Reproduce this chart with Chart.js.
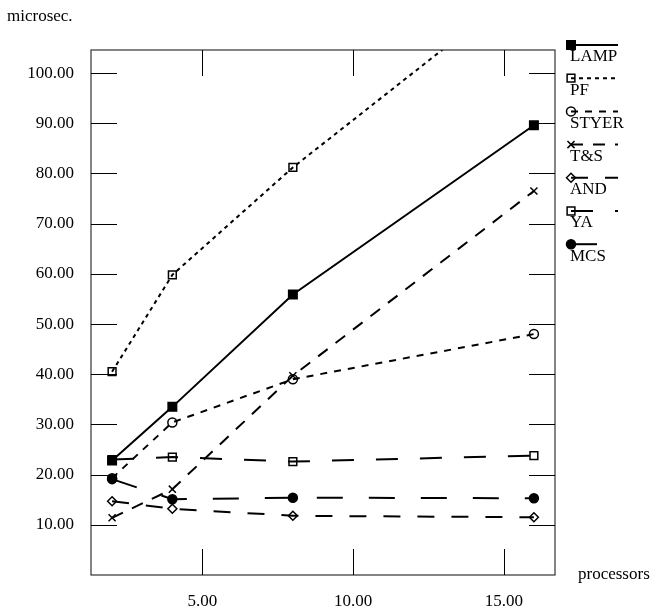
<!DOCTYPE html>
<html><head><meta charset="utf-8">
<script src="https://cdn.jsdelivr.net/npm/chart.js@4/dist/chart.umd.min.js"></script>
<style>html,body{margin:0;padding:0;background:#fff}#wrap{width:650px;height:608px;position:relative}</style>
</head><body><div id="wrap"><canvas id="c" width="650" height="608"></canvas></div>
<script>
// ---- data ----
const seriesNames = ['LAMP', 'PF', 'STYER', 'T&S', 'AND', 'YA', 'MCS'];
const processors = [2, 4, 8, 16];
const lamp  = [22.8, 33.5, 55.9, 89.6];
const pf    = [40.5, 59.8, 81.2, 119.0];
const styer = [19.3, 30.4, 39.0, 48.0];
const ts    = [11.4, 17.1, 39.7, 76.5];
const andv  = [14.7, 13.2, 11.8, 11.5];
const ya    = [23.0, 23.5, 22.6, 23.8];
const mcs   = [19.1, 15.1, 15.4, 15.3];
const xTickValues = [5, 10, 15];
const yTickValues = [10, 20, 30, 40, 50, 60, 70, 80, 90, 100];
const yAxisTitle = 'microsec.';
const xAxisTitle = 'processors';

// ---- styles ----
const FONT = '"Liberation Serif", "Times New Roman", serif';
const FS = 17;
const values = [lamp, pf, styer, ts, andv, ya, mcs];
const styles = [
  {ps: 'rect',     r: 6,   fill: true,  dash: []},
  {ps: 'rect',     r: 5.5, fill: false, dash: [4, 4]},
  {ps: 'circle',   r: 4.5, fill: false, dash: [7, 7]},
  {ps: 'crossRot', r: 5,   fill: false, dash: [12, 10]},
  {ps: 'rectRot',  r: 4.5, fill: false, dash: [17, 17]},
  {ps: 'rect',     r: 5.5, fill: false, dash: [22, 22]},
  {ps: 'circle',   r: 4.5, fill: true,  dash: [26, 26]}
];

const datasets = seriesNames.map((name, i) => ({
  label: name,
  data: processors.map((p, j) => ({x: p, y: values[i][j]})),
  borderColor: '#000',
  borderWidth: 2,
  borderDash: styles[i].dash,
  pointStyle: styles[i].ps,
  pointRadius: styles[i].r,
  pointHoverRadius: styles[i].r,
  pointBorderWidth: 1.5,
  pointBorderColor: '#000',
  pointBackgroundColor: styles[i].fill ? '#000' : 'rgba(0,0,0,0)',
  tension: 0,
  fill: false
}));

const frame = {
  id: 'frame',
  afterDatasetsDraw(chart) {
    const ctx = chart.ctx, ca = chart.chartArea;
    const xs = chart.scales.x, ys = chart.scales.y;
    const T = 26;
    ctx.save();
    ctx.setLineDash([]);
    ctx.strokeStyle = '#333';
    ctx.lineWidth = 1.2;
    ctx.strokeRect(ca.left, ca.top, ca.right - ca.left, ca.bottom - ca.top);
    ctx.strokeStyle = '#000';
    ctx.lineWidth = 1;
    ctx.beginPath();
    yTickValues.forEach(v => {
      const py = Math.round(ys.getPixelForValue(v)) + 0.5;
      ctx.moveTo(ca.left, py); ctx.lineTo(ca.left + T, py);
      ctx.moveTo(ca.right - T, py); ctx.lineTo(ca.right, py);
    });
    xTickValues.forEach(v => {
      const px = Math.round(xs.getPixelForValue(v)) + 0.5;
      ctx.moveTo(px, ca.bottom); ctx.lineTo(px, ca.bottom - T);
      ctx.moveTo(px, ca.top); ctx.lineTo(px, ca.top + T);
    });
    ctx.stroke();
    ctx.restore();
  },
  afterDraw(chart) {
    const ctx = chart.ctx, ca = chart.chartArea;
    ctx.save();
    ctx.fillStyle = '#000';
    ctx.font = FS + 'px ' + FONT;
    ctx.textBaseline = 'middle';
    ctx.textAlign = 'left';
    ctx.fillText(yAxisTitle, 7, 17);
    ctx.fillText(xAxisTitle, 578, ca.bottom);
    // legend
    chart.data.datasets.forEach((ds, i) => {
      const y = 45 + i * 33.2;
      const x0 = 571, x1 = 618;
      ctx.strokeStyle = '#000';
      ctx.lineWidth = 2;
      ctx.setLineDash(ds.borderDash);
      ctx.beginPath(); ctx.moveTo(x0, y); ctx.lineTo(x1, y); ctx.stroke();
      ctx.setLineDash([]);
      ctx.lineWidth = 1.5;
      ctx.fillStyle = ds.pointBackgroundColor;
      Chart.helpers.drawPoint(ctx, {pointStyle: ds.pointStyle, radius: ds.pointRadius, borderWidth: 1.5, rotation: 0}, x0, y);
      ctx.fillStyle = '#000';
      ctx.fillText(ds.label, 570, y + 12);
    });
    ctx.restore();
  }
};

new Chart(document.getElementById('c'), {
  type: 'line',
  data: {datasets},
  plugins: [frame],
  options: {
    responsive: false,
    animation: false,
    devicePixelRatio: 1,
    layout: {padding: {left: 0, top: 50, right: 95, bottom: 0}},
    plugins: {legend: {display: false}, tooltip: {enabled: false}, title: {display: false}},
    scales: {
      x: {
        type: 'linear', min: 1.3, max: 16.7,
        grid: {display: false, drawTicks: false},
        border: {display: false},
        afterBuildTicks: s => { s.ticks = xTickValues.map(v => ({value: v})); },
        afterFit: s => { s.height = 33; },
        ticks: {font: {family: FONT, size: FS}, color: '#000', padding: 16, maxRotation: 0,
                callback: v => Number(v).toFixed(2)}
      },
      y: {
        type: 'linear', min: 0, max: 104.6,
        grid: {display: false, drawTicks: false},
        border: {display: false},
        afterBuildTicks: s => { s.ticks = yTickValues.map(v => ({value: v})); },
        afterFit: s => { s.width = 91; },
        ticks: {font: {family: FONT, size: FS}, color: '#000', padding: 17,
                callback: v => Number(v).toFixed(2)}
      }
    }
  }
});
</script>
</body></html>
